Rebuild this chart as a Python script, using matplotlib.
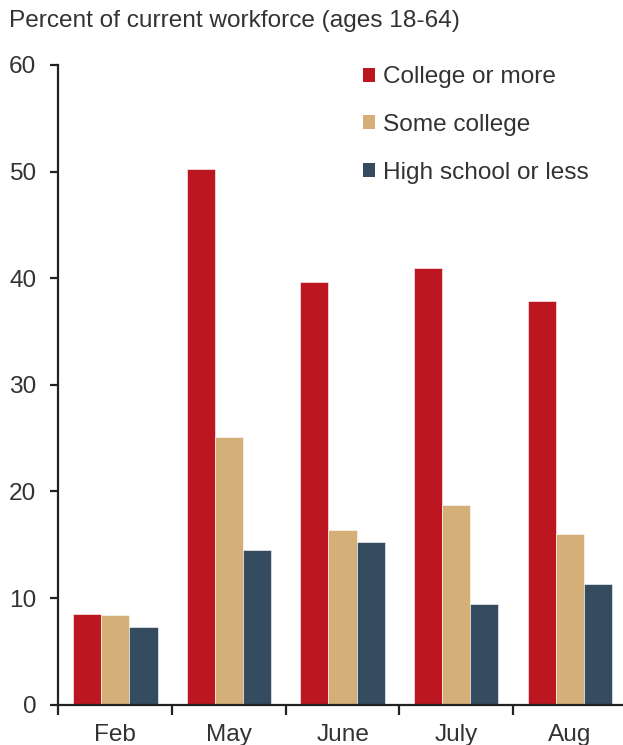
import matplotlib
matplotlib.use("Agg")
import matplotlib.pyplot as plt
import numpy as np
from matplotlib.patches import Patch

plt.rcParams['font.family'] = ['Liberation Sans', 'DejaVu Sans']

months = ["Feb", "May", "June", "July", "Aug"]
series_names = ["College or more", "Some college", "High school or less"]
college_or_more = [8.5, 50.2, 39.6, 41.0, 37.9]
some_college = [8.4, 25.1, 16.4, 18.7, 16.0]
high_school_or_less = [7.3, 14.5, 15.3, 9.45, 11.3]
colors = ["#BC1620", "#D4AF78", "#344B60"]
yticks = [0, 10, 20, 30, 40, 50, 60]

text_color = "#333333"
axis_color = "#222222"
fs = 17.6

fig = plt.figure(figsize=(6.23, 7.45), dpi=100)
ax = fig.add_axes([0.0939, 0.0541, 0.912, 0.8587])

x = np.arange(len(months))
width = 0.248
for i, (vals, name, c) in enumerate(zip(
        [college_or_more, some_college, high_school_or_less], series_names, colors)):
    ax.bar(x + (i - 1) * width, vals, width=width, color=c, label=name,
           edgecolor="white", linewidth=0.4)

ax.set_xlim(-0.5, len(months) - 0.5)
ax.set_ylim(0, 60)
ax.set_yticks(yticks)
ax.set_yticklabels([str(t) for t in yticks])

# month labels centred under groups, tick marks on group boundaries
ax.set_xticks(x)
ax.set_xticklabels(months)
ax.set_xticks(np.arange(len(months) + 1) - 0.5, minor=True)
ax.tick_params(axis="x", which="major", length=0, pad=14, labelsize=fs,
               labelcolor=text_color)
ax.tick_params(axis="x", which="minor", length=7, width=1.6, color=axis_color,
               direction="out")
ax.tick_params(axis="y", length=6, width=1.6, color=axis_color, pad=10,
               labelsize=fs, labelcolor=text_color, direction="out")

for side in ["top", "right"]:
    ax.spines[side].set_visible(False)
for side in ["left", "bottom"]:
    ax.spines[side].set_color(axis_color)
    ax.spines[side].set_linewidth(1.6)

fig.text(0.015, 1 - 21 / 745, "Percent of current workforce (ages 18-64)",
         fontsize=fs, color=text_color, va="center", ha="left")

handles = [Patch(facecolor=c, edgecolor="none") for c in colors]
leg = fig.legend(handles, series_names, loc="upper left",
                 bbox_to_anchor=(0.583, 0.911), frameon=False, fontsize=fs,
                 handlelength=0.5, handleheight=0.5, handletextpad=0.33,
                 labelspacing=1.05, borderpad=0, borderaxespad=0)
for t in leg.get_texts():
    t.set_color(text_color)

fig.savefig("out.png", dpi=100)
